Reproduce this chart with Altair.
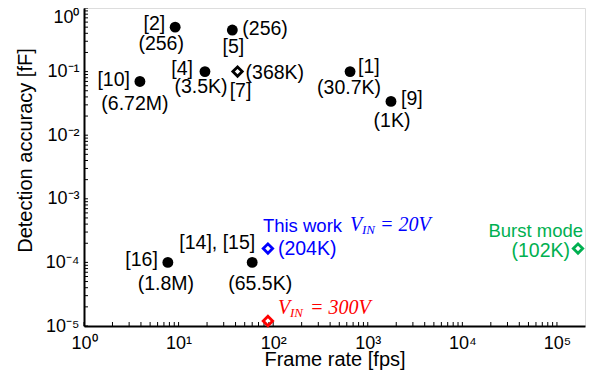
import json
import altair as alt
import pandas as pd

# ---------------- data ----------------
names = ["p1", "p2", "p4", "p5", "p7", "p9", "p10", "p14", "p16", "this", "v300", "burst"]
frame_rate = [650, 9.2, 19, 37, 42, 1760, 3.9, 60, 7.7, 88, 88, 1.67e5]
accuracy = [0.1, 0.5, 0.1, 0.45, 0.1, 0.034, 0.07, 1e-4, 1e-4, 1.65e-4, 1.2e-5, 1.65e-4]
refs = ["[1]", "[2]", "[4]", "[5]", "[7]", "[9]", "[10]", "[14], [15]", "[16]",
        "This work", "", "Burst mode"]
counts = ["(30.7K)", "(256)", "(3.5K)", "(256)", "(368K)", "(1K)", "(6.72M)",
          "(65.5K)", "(1.8M)", "(204K)", "", "(102K)"]
shapes = ["circle", "circle", "circle", "circle", "diamond", "circle", "circle",
          "circle", "circle", "diamond", "diamond", "diamond"]
groups = ["prior"] * 9 + ["this", "v300", "burst"]
sym = ["", "", "", "", "", "", "", "", "", "V", "V", ""]
sub = ["", "", "", "", "", "", "", "", "", "IN", "IN", ""]
rhs = ["", "", "", "", "", "", "", "", "", "= 20V", "= 300V", ""]

x_tick_values = [1, 10, 100, 1000, 10000, 100000]
x_tick_labels = ["10⁰", "10¹", "10²", "10³", "10⁴", "10⁵"]
y_tick_values = [1e-5, 1e-4, 1e-3, 1e-2, 1e-1, 1]
y_tick_labels = ["10⁻⁵", "10⁻⁴", "10⁻³", "10⁻²", "10⁻¹", "10⁰"]

x_minor = [m * 10 ** k for k in range(0, 5) for m in range(1, 10)] + [100000]
y_minor = [m * 10.0 ** k for k in range(-5, 0) for m in range(1, 10)] + [1]

df = pd.DataFrame({
    "name": names, "frame_rate": frame_rate, "accuracy": accuracy,
    "ref": refs, "count": counts, "shape": shapes, "group": groups,
    "sym": sym, "sub": sub, "rhs": rhs,
})

# ---------------- styling ----------------
W, H = 501, 318
SANS = "Liberation Sans"
SERIF = "Liberation Serif"
group_dom = ["prior", "this", "v300", "burst"]
group_col = ["#000000", "#0000FF", "#FF0000", "#00B050"]
col_of = dict(zip(group_dom, group_col))

xscale = alt.Scale(type="log", domain=[1, 1.98e5], nice=False)
yscale = alt.Scale(type="log", domain=[1e-5, 1], nice=False)

xaxis = alt.Axis(
    values=x_tick_values,
    labelExpr=json.dumps(x_tick_labels, ensure_ascii=False) + "[round(log(datum.value)/LN10)]",
    ticks=False, grid=False, labelFlush=False, labelOverlap=False,
    labelFont=SANS, labelFontSize=18, labelColor="black",
    labelBaseline="alphabetic", labelPadding=22,
    title="Frame rate [fps]", titleFont=SANS, titleFontSize=20,
    titleFontWeight="normal", titleColor="black",
    titleBaseline="alphabetic", titleY=39,
    domainColor="black", domainWidth=2,
)
yaxis = alt.Axis(
    values=y_tick_values,
    labelExpr=json.dumps(y_tick_labels, ensure_ascii=False) + "[round(log(datum.value)/LN10)+5]",
    ticks=False, grid=False, labelFlush=False, labelOverlap=False,
    labelFont=SANS, labelFontSize=18, labelColor="black",
    labelAlign="right",
    labelBaseline={"condition": {"test": "datum.value >= 1", "value": "top"}, "value": "middle"},
    labelPadding=5,
    title="Detection accuracy [fF]", titleFont=SANS, titleFontSize=20,
    titleFontWeight="normal", titleColor="black",
    titleBaseline="alphabetic", titleAlign="center", titleAngle=270,
    titleX=-53, titleY=142,
    domainColor="black", domainWidth=2,
)

X = alt.X("frame_rate:Q", scale=xscale, axis=xaxis)
Y = alt.Y("accuracy:Q", scale=yscale, axis=yaxis)
COLOR = alt.Color("group:N", scale=alt.Scale(domain=group_dom, range=group_col), legend=None)

base = alt.Chart(df)

circles = base.transform_filter("datum.shape == 'circle'").mark_point(
    shape="circle", filled=True, size=118, opacity=1
).encode(x=X, y=Y, color=COLOR)

diamonds = base.transform_filter("datum.shape == 'diamond'").mark_point(
    shape="diamond", filled=False, size=88, strokeWidth=2.8, opacity=1
).encode(x=X, y=Y, color=COLOR)

xticks = alt.Chart(pd.DataFrame({"frame_rate": x_minor})).mark_rule(
    color="black", strokeWidth=1
).encode(x=X, y=alt.value(H), y2=alt.value(H - 4))

yticks = alt.Chart(pd.DataFrame({"accuracy": y_minor})).mark_rule(
    color="black", strokeWidth=1
).encode(y=Y, x=alt.value(0), x2=alt.value(4))

# label placements (pixel offsets from the marker)
ref_pos = {
    "p1": (8, -5, "left"), "p2": (-10, -3, "right"), "p4": (-12, -3, "right"),
    "p5": (1, 17, "center"), "p7": (3, 19, "center"), "p9": (10, -2, "left"),
    "p10": (-10, -1, "right"), "p14": (3, -19, "right"), "p16": (-10, -2, "right"),
    "this": (-5, -23, "left"), "burst": (5, -18, "right"),
}
count_pos = {
    "p1": (-1, 16, "center"), "p2": (-14, 17, "center"), "p4": (-4, 15, "center"),
    "p5": (10, -1, "left"), "p7": (8, 1, "left"), "p9": (1, 20, "center"),
    "p10": (-5, 23, "center"), "p14": (8, 22, "center"), "p16": (-2, 22, "center"),
    "this": (10, 0, "left"), "burst": (-8, 2, "right"),
}
formula_pos = {  # (dx of V, dx of IN, dx of rhs, dy)
    "this": (82, 94, 112, -24),
    "v300": (10, 22, 42, -13),
}

layers = [xticks, yticks, circles, diamonds]
grp_of = dict(zip(names, groups))


def label(name, field, dx, dy, align, size=19.5, font=SANS, style="normal"):
    return base.transform_filter(f"datum.name == '{name}'").mark_text(
        dx=dx, dy=dy, align=align, baseline="middle", font=font,
        fontSize=size, fontStyle=style, color=col_of[grp_of[name]],
    ).encode(x=X, y=Y, text=f"{field}:N")


for n, (dx, dy, a) in ref_pos.items():
    layers.append(label(n, "ref", dx, dy, a, size=18.5 if n in ("this", "burst") else 19.5))
for n, (dx, dy, a) in count_pos.items():
    layers.append(label(n, "count", dx, dy, a))
for n, (dxv, dxs, dxr, dy) in formula_pos.items():
    layers.append(label(n, "sym", dxv, dy, "left", size=20, font=SERIF, style="italic"))
    layers.append(label(n, "sub", dxs, dy + 5, "left", size=13, font=SERIF, style="italic"))
    layers.append(label(n, "rhs", dxr, dy, "left", size=20, font=SERIF, style="italic"))

chart = alt.layer(*layers).properties(
    width=W, height=H,
    autosize=alt.AutoSizeParams(type="none"),
    padding={"left": 76, "top": 0, "right": 4, "bottom": 45},
).configure_view(stroke="black", strokeWidth=1.5).configure(background="white")

chart.save("out.html", embed_options={"renderer": "svg", "actions": False})
